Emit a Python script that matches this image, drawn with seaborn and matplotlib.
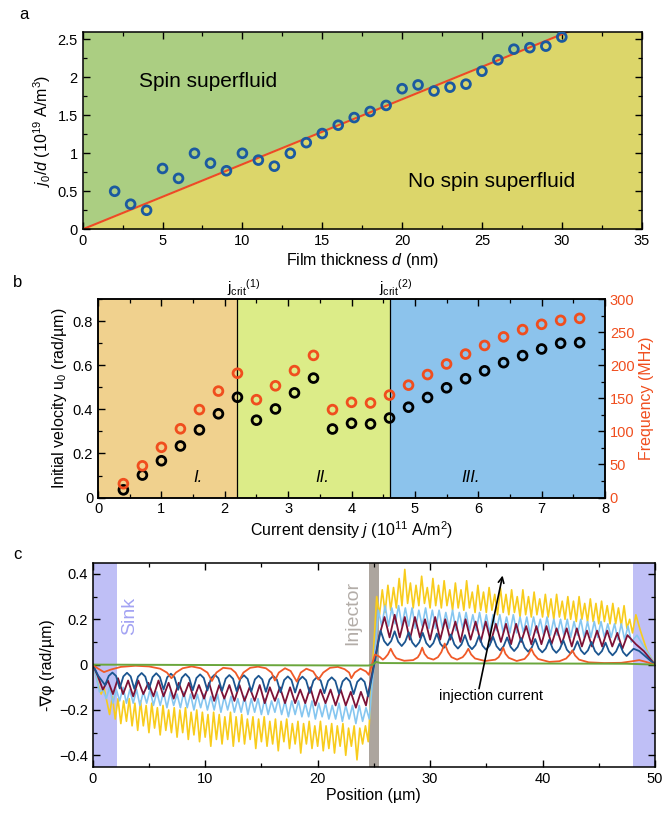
import numpy as np
import pandas as pd
import matplotlib
matplotlib.use("Agg")
import matplotlib.pyplot as plt
import seaborn as sns
from matplotlib.ticker import MultipleLocator, FuncFormatter
from matplotlib.transforms import blended_transform_factory

# ---------------- Panel a data ----------------
thickness_nm = [2, 3, 4, 5, 6, 7, 8, 9, 10, 11, 12, 13, 14, 15, 16, 17, 18, 19, 20,
                21, 22, 23, 24, 25, 26, 27, 28, 29, 30]
jd_values = [0.50, 0.33, 0.25, 0.80, 0.67, 1.00, 0.87, 0.77, 1.00, 0.91, 0.83, 1.00,
             1.14, 1.26, 1.37, 1.47, 1.55, 1.63, 1.85, 1.90, 1.82, 1.87, 1.91, 2.08,
             2.23, 2.37, 2.39, 2.41, 2.53]
boundary_d = [0, 30.4, 35]
boundary_jd = [0, 2.6, 2.99]

# ---------------- Panel b data ----------------
current_j = [0.4, 0.7, 1.0, 1.3, 1.6, 1.9, 2.2, 2.5, 2.8, 3.1, 3.4, 3.7, 4.0, 4.3,
             4.6, 4.9, 5.2, 5.5, 5.8, 6.1, 6.4, 6.7, 7.0, 7.3, 7.6]
velocity_u0 = [0.035, 0.102, 0.167, 0.234, 0.307, 0.380, 0.455, 0.351, 0.402, 0.475,
               0.542, 0.311, 0.337, 0.334, 0.361, 0.410, 0.454, 0.498, 0.539, 0.575,
               0.612, 0.644, 0.674, 0.700, 0.703]
frequency_mhz = [21, 48, 76, 104, 133, 161, 188, 148, 169, 192, 215, 133, 144, 143,
                 155, 170, 186, 202, 217, 230, 243, 254, 262, 268, 271]
j_crit = [2.2, 4.6]
region_labels = ["I.", "II.", "III."]
region_label_x = [1.57, 3.54, 5.88]

# ---------------- Panel c data (rad/um) ----------------
sink_bands = [(0.0, 2.2), (48.0, 50.0)]
injector_band = (24.55, 25.5)

# yellow (units of 0.01 rad/um)
yellow_left_start, yellow_left_step = 0.0, 0.25
yellow_left_cent = [0, -4, -9, -13, -10, -16, -22, -14, -24, -15, -26, -16, -25, -15, -27, -17,
                    -29, -16, -27, -18, -30, -17, -28, -19, -31, -18, -29, -20, -30, -19, -32, -20,
                    -30, -19, -33, -21, -31, -20, -34, -21, -32, -22, -36, -21, -33, -22, -35, -23,
                    -33, -21, -36, -23, -34, -22, -35, -24, -33, -23, -37, -24, -34, -23, -36, -25,
                    -35, -24, -38, -25, -34, -24, -37, -26, -35, -25, -39, -26, -35, -25, -37, -27,
                    -36, -25, -38, -27, -37, -26, -39, -27, -36, -26, -40, -28, -36, -27, -42, -28,
                    -35, -27, -34]
yellow_right_start, yellow_right_step = 25.25, 0.25
yellow_right_cent = [30, 22, 33, 23, 35, 24, 34, 25, 38, 26, 42, 27, 36, 25, 35, 26, 39, 27, 34, 25,
                     38, 26, 35, 25, 37, 26, 33, 24, 36, 25, 33, 24, 37, 25, 32, 23, 35, 24, 32, 23,
                     34, 24, 31, 22, 34, 23, 31, 22, 33, 23, 30, 21, 33, 22, 30, 21, 32, 22, 29, 21,
                     31, 21, 29, 20, 31, 21, 28, 20, 30, 20, 28, 19, 30, 20, 27, 19, 29, 19, 27, 18,
                     28, 19, 26, 18, 27, 18, 25, 17, 26, 16, 20, 14]
yellow_tail_x = [48.3, 48.7, 49.3, 50.0]
yellow_tail_cent = [22, 15, 6, 0]

# light blue
lblue_head_x = [0.0, 0.3, 0.6]
lblue_head_cent = [0, -5, -12]
lblue_left_start, lblue_left_step = 0.9, 0.3
lblue_left_cent = [-11, -15, -10, -17, -11, -16, -10, -17, -11, -17, -11, -18, -12, -17, -11, -18,
                   -12, -18, -12, -19, -12, -18, -13, -19, -12, -19, -13, -20, -13, -19, -13, -20,
                   -14, -20, -13, -21, -14, -20, -14, -21, -15, -21, -14, -22, -15, -21, -15, -22,
                   -15, -22, -16, -21, -15, -22, -16, -23, -16, -22, -16, -23, -17, -23, -16, -24,
                   -17, -23, -17, -24, -18, -24, -17, -25, -18, -24, -18, -26, -18, -25, -19, -24]
lblue_right_start, lblue_right_step = 25.4, 0.3
lblue_right_cent = [24, 17, 26, 17, 25, 18, 26, 17, 25, 17, 25, 16, 24, 17, 25, 16, 24, 16, 24, 16,
                    23, 16, 24, 15, 23, 16, 23, 15, 22, 15, 23, 15, 22, 14, 22, 15, 22, 14, 21, 14,
                    22, 14, 21, 14, 21, 13, 21, 14, 20, 13, 21, 13, 20, 13, 20, 13, 20, 12, 19, 13,
                    20, 12, 19, 12, 19, 12, 19, 12, 18, 12, 18, 11, 18, 11, 17, 10]
lblue_tail_x = [48.4, 49.0, 50.0]
lblue_tail_cent = [13, 8, 0]

# maroon
maroon_head_x = [0.0, 0.45]
maroon_head_cent = [0, -5]
maroon_left_start, maroon_left_step = 0.9, 0.45
maroon_left_cent = [-11, -7, -13, -6, -13, -7, -14, -7, -13, -8, -14, -7, -14, -8, -15, -8,
                    -14, -8, -15, -9, -15, -8, -16, -9, -15, -9, -16, -9, -16, -10, -16, -9,
                    -17, -10, -16, -10, -17, -10, -17, -11, -17, -10, -18, -11, -17, -11, -18, -11,
                    -18, -12, -19, -12, -18]
maroon_right_start, maroon_right_step = 25.5, 0.45
maroon_right_cent = [13, 21, 12, 22, 12, 21, 11, 21, 12, 20, 11, 21, 11, 20, 11, 19, 10, 20, 11, 19,
                     10, 19, 10, 18, 10, 18, 9, 18, 10, 17, 9, 17, 9, 17, 9, 16, 9, 16, 8, 16,
                     8, 15, 8, 15, 8, 15, 8, 14, 7, 13]
maroon_tail_x = [48.3, 49.0, 50.0]
maroon_tail_cent = [9, 6, 0]

# dark blue (rad/um)
blue_head_x = [0.0, 0.5]
blue_head = [0.0, -0.05]
blue_left_start, blue_left_step = 1.1, 0.325
blue_left = [-0.090, -0.050, -0.035, -0.050, -0.105, -0.052, -0.036, -0.052,
             -0.107, -0.053, -0.037, -0.053, -0.108, -0.055, -0.038, -0.055,
             -0.110, -0.056, -0.040, -0.056, -0.111, -0.058, -0.041, -0.058,
             -0.113, -0.059, -0.043, -0.059, -0.114, -0.060, -0.044, -0.060,
             -0.116, -0.062, -0.046, -0.062, -0.117, -0.063, -0.047, -0.063,
             -0.119, -0.065, -0.049, -0.065, -0.120, -0.066, -0.050, -0.066,
             -0.122, -0.068, -0.052, -0.068, -0.123, -0.069, -0.053, -0.069,
             -0.125, -0.071, -0.055, -0.071, -0.126, -0.072, -0.056, -0.072,
             -0.128, -0.074, -0.058, -0.074, -0.130, -0.076, -0.060, -0.076, -0.140]
blue_right_start, blue_right_step = 25.6, 0.3125
blue_right = [0.150, 0.104, 0.085, 0.104, 0.147, 0.101, 0.082, 0.101,
              0.143, 0.098, 0.079, 0.098, 0.140, 0.095, 0.077, 0.095,
              0.137, 0.092, 0.074, 0.092, 0.133, 0.089, 0.071, 0.089,
              0.130, 0.086, 0.068, 0.086, 0.127, 0.084, 0.066, 0.084,
              0.123, 0.081, 0.063, 0.081, 0.120, 0.078, 0.060, 0.078,
              0.117, 0.075, 0.057, 0.075, 0.113, 0.071, 0.054, 0.071,
              0.110, 0.069, 0.052, 0.069, 0.107, 0.066, 0.049, 0.066,
              0.103, 0.063, 0.046, 0.063, 0.100, 0.060, 0.043, 0.060,
              0.097, 0.058, 0.041, 0.058, 0.093, 0.055, 0.038, 0.055, 0.070]
blue_tail_x = [48.6, 49.3, 50.0]
blue_tail = [0.06, 0.03, 0.0]

# orange
orange_x = [0, 0.4, 1.0, 1.6, 2.5, 3.8, 5.0, 6.0, 6.6, 7.0, 7.4, 8.0, 8.8, 9.6, 10.2, 10.6, 11.0,
            11.6, 12.3, 12.7, 13.05, 13.4, 14.0, 14.7, 15.4, 15.9, 16.2, 16.55, 17.1, 17.6, 18.15,
            18.5, 19.0, 19.6, 20.07, 20.5, 21.1, 21.8, 22.4, 22.8, 23.0, 23.3, 23.8, 24.3, 24.55,
            25.1, 25.5, 25.8, 26.0, 26.25, 26.5, 26.75, 27.0, 27.7, 28.5, 28.9, 29.1, 29.3, 29.5,
            29.8, 30.3, 30.7, 31.0, 31.3, 31.6, 31.9, 32.4, 32.9, 33.15, 33.4, 33.65, 34.0, 34.9,
            35.8, 36.1, 36.3, 36.5, 36.7, 37.0, 37.7, 38.4, 38.75, 39.0, 39.25, 39.6, 40.6, 41.5,
            42.1, 42.4, 42.65, 42.9, 43.25, 44.1, 45.5, 47.0, 48.0, 48.6, 49.2, 50.0]
orange_y = [0, -0.015, -0.033, -0.022, -0.010, -0.005, -0.008, -0.018, -0.035, -0.060, -0.035,
            -0.016, -0.008, -0.016, -0.035, -0.072, -0.035, -0.014, -0.018, -0.035, -0.066,
            -0.035, -0.014, -0.009, -0.016, -0.035, -0.070, -0.035, -0.016, -0.028, -0.075,
            -0.035, -0.018, -0.030, -0.066, -0.035, -0.014, -0.010, -0.020, -0.035, -0.060,
            -0.035, -0.018, -0.030, -0.045,
            0.045, 0.035, 0.022, 0.030, 0.045, 0.070, 0.045, 0.028, 0.017, 0.020, 0.032, 0.048,
            0.075, 0.048, 0.030, 0.022, 0.033, 0.055, 0.093, 0.055, 0.033, 0.022, 0.033, 0.048,
            0.070, 0.045, 0.027, 0.016, 0.022, 0.033, 0.050, 0.075, 0.048, 0.030, 0.016, 0.025,
            0.045, 0.070, 0.045, 0.025, 0.012, 0.015, 0.027, 0.043, 0.063, 0.040, 0.022, 0.010,
            0.007, 0.008, 0.015, 0.020, 0.012, 0.0]

# green
green_x = [0, 24.5, 24.9, 25.2, 25.6, 30.0, 47.5, 50.0]
green_y = [0, -0.004, 0.0, 0.012, 0.007, 0.006, 0.004, 0.0]


def grid(start, step, n):
    return list(start + step * np.arange(n))


def build(head_x, head_y, ls, lstep, lvals, rs, rstep, rvals, tx, ty):
    xs = list(head_x) + grid(ls, lstep, len(lvals)) + grid(rs, rstep, len(rvals)) + list(tx)
    ys = list(head_y) + list(lvals) + list(rvals) + list(ty)
    return np.array(xs), np.array(ys)


c01 = lambda v: [u / 100.0 for u in v]

curves = []
curves.append(("yellow", "#f8cc1c", 1.2,
               build([], [], yellow_left_start, yellow_left_step, c01(yellow_left_cent),
                     yellow_right_start, yellow_right_step, c01(yellow_right_cent),
                     yellow_tail_x, c01(yellow_tail_cent))))
curves.append(("lightblue", "#86c6f0", 1.2,
               build(lblue_head_x, c01(lblue_head_cent), lblue_left_start, lblue_left_step,
                     c01(lblue_left_cent), lblue_right_start, lblue_right_step,
                     c01(lblue_right_cent), lblue_tail_x, c01(lblue_tail_cent))))
curves.append(("maroon", "#7d1236", 1.3,
               build(maroon_head_x, c01(maroon_head_cent), maroon_left_start, maroon_left_step,
                     c01(maroon_left_cent), maroon_right_start, maroon_right_step,
                     c01(maroon_right_cent), maroon_tail_x, c01(maroon_tail_cent))))
curves.append(("blue", "#1b5590", 1.3,
               build(blue_head_x, blue_head, blue_left_start, blue_left_step, blue_left,
                     blue_right_start, blue_right_step, blue_right, blue_tail_x, blue_tail)))
curves.append(("orange", "#f05a28", 1.3, (np.array(orange_x), np.array(orange_y))))
curves.append(("green", "#6aa63c", 1.4, (np.array(green_x), np.array(green_y))))

# ---------------- Style ----------------
sns.set_style("ticks")
plt.rcParams["font.family"] = ["Liberation Sans", "DejaVu Sans"]
plt.rcParams["mathtext.fontset"] = "custom"
plt.rcParams["mathtext.rm"] = "Liberation Sans"
plt.rcParams["mathtext.it"] = "Liberation Sans:italic"
plt.rcParams["mathtext.bf"] = "Liberation Sans:bold"
plt.rcParams["axes.linewidth"] = 1.1
for key in ["text.color", "axes.labelcolor", "xtick.color", "ytick.color", "axes.edgecolor"]:
    plt.rcParams[key] = "black"
TICK_FS = 10.5
LAB_FS = 11.5


def fmt(v, pos):
    if abs(v) < 1e-9:
        return "0"
    return f"{v:g}".replace("-", "\u2212")


def style_ticks(ax, right=True):
    ax.tick_params(which="both", direction="in", top=True, right=right, labelsize=TICK_FS,
                   color="black")
    ax.tick_params(which="major", length=5, width=1.0)
    ax.tick_params(which="minor", length=3, width=0.9)
    ax.xaxis.set_major_formatter(FuncFormatter(fmt))
    ax.yaxis.set_major_formatter(FuncFormatter(fmt))


fig = plt.figure(figsize=(6.67, 8.13), dpi=100)

# ---------------- Panel a ----------------
axa = fig.add_axes([0.124, 0.718, 0.838, 0.243])
bx = np.array(boundary_d, dtype=float)
by = np.array(boundary_jd, dtype=float)
by_clip = np.minimum(by, 2.6)
axa.fill_between(bx, by_clip, 2.6, color="#abce82", zorder=0, lw=0)
axa.fill_between(bx, 0, by_clip, color="#dcd66a", zorder=0, lw=0)
axa.plot(bx, by, color="#ee4a25", lw=1.5, zorder=2)
sns.scatterplot(x=thickness_nm, y=jd_values, ax=axa, marker="o", s=40,
                facecolor="none", edgecolor="#1b5aa0", linewidth=2.0, zorder=3)
axa.set_xlim(0, 35)
axa.set_ylim(0, 2.6)
axa.xaxis.set_major_locator(MultipleLocator(5))
axa.xaxis.set_minor_locator(MultipleLocator(2.5))
axa.yaxis.set_major_locator(MultipleLocator(0.5))
axa.yaxis.set_minor_locator(MultipleLocator(0.25))
style_ticks(axa)
axa.set_xlabel("Film thickness $d$ (nm)", fontsize=LAB_FS, labelpad=2)
axa.set_ylabel("$j_0/d$ (10$^{19}$ A/m$^3$)", fontsize=LAB_FS, labelpad=3)
axa.text(3.5, 1.95, "Spin superfluid", fontsize=15, va="center", ha="left")
axa.text(20.35, 0.63, "No spin superfluid", fontsize=15, va="center", ha="left")

# ---------------- Panel b ----------------
axb = fig.add_axes([0.147, 0.388, 0.760, 0.244])
edges = [0] + j_crit + [8]
region_colors = ["#f0d18e", "#dcec88", "#8cc3ec"]
for i in range(3):
    axb.axvspan(edges[i], edges[i + 1], color=region_colors[i], lw=0, zorder=0)
for jc in j_crit:
    axb.axvline(jc, color="black", lw=0.9, zorder=1)
axb2 = axb.twinx()
sns.scatterplot(x=current_j, y=frequency_mhz, ax=axb2, marker="o", s=40,
                facecolor="none", edgecolor="#f04e1e", linewidth=2.0, zorder=3)
sns.scatterplot(x=current_j, y=velocity_u0, ax=axb, marker="o", s=40,
                facecolor="none", edgecolor="black", linewidth=2.0, zorder=3)
axb.set_zorder(axb2.get_zorder() - 1)
axb2.patch.set_visible(False)
axb.set_xlim(0, 8)
axb.set_ylim(0, 0.9)
axb2.set_ylim(0, 300)
axb.xaxis.set_major_locator(MultipleLocator(1))
axb.xaxis.set_minor_locator(MultipleLocator(0.5))
axb.yaxis.set_major_locator(MultipleLocator(0.2))
axb.yaxis.set_minor_locator(MultipleLocator(0.1))
axb2.yaxis.set_major_locator(MultipleLocator(50))
axb2.yaxis.set_minor_locator(MultipleLocator(25))
style_ticks(axb, right=False)
axb2.tick_params(which="both", direction="in", labelsize=TICK_FS, labelcolor="#f04e1e",
                 color="black")
axb2.tick_params(which="major", length=5, width=1.0)
axb2.tick_params(which="minor", length=3, width=0.9)
axb2.yaxis.set_major_formatter(FuncFormatter(fmt))
axb.set_xlabel("Current density $j$ (10$^{11}$ A/m$^2$)", fontsize=LAB_FS, labelpad=2)
axb.set_ylabel("Initial velocity u$_0$ (rad/\u00b5m)", fontsize=LAB_FS, labelpad=3)
axb2.set_ylabel("Frequency (MHz)", fontsize=LAB_FS, color="#f04e1e", labelpad=3)
trb = blended_transform_factory(axb.transData, axb.transAxes)
for k, jc in enumerate(j_crit):
    axb.text(jc + 0.1, 1.005, "$\\mathrm{j}_{\\mathrm{crit}}{}^{(%d)}$" % (k + 1), transform=trb,
             ha="center", va="bottom", fontsize=11)
for lab, lx in zip(region_labels, region_label_x):
    axb.text(lx, 0.093, lab, fontsize=12, style="italic", ha="center", va="center")

# ---------------- Panel c ----------------
axc = fig.add_axes([0.139, 0.057, 0.843, 0.251])
for a0, a1 in sink_bands:
    axc.axvspan(a0, a1, color="#bfbff6", lw=0, zorder=0)
axc.axvspan(injector_band[0], injector_band[1], color="#aca59e", lw=0, zorder=0)
for name, col, lw, (xs, ys) in curves:
    sns.lineplot(x=xs, y=ys, ax=axc, color=col, lw=lw, sort=False, estimator=None, zorder=2)
axc.set_xlim(0, 50)
axc.set_ylim(-0.45, 0.45)
axc.xaxis.set_major_locator(MultipleLocator(10))
axc.xaxis.set_minor_locator(MultipleLocator(5))
axc.yaxis.set_major_locator(MultipleLocator(0.2))
axc.yaxis.set_minor_locator(MultipleLocator(0.1))
style_ticks(axc)
axc.set_xlabel("Position (\u00b5m)", fontsize=LAB_FS, labelpad=2)
axc.set_ylabel("-\u2207\u03c6 (rad/\u00b5m)", fontsize=LAB_FS, labelpad=3)
axc.text(3.25, 0.214, "Sink", rotation=90, color="#a3a3f3", fontsize=14,
         ha="center", va="center")
axc.text(23.15, 0.228, "Injector", rotation=90, color="#b3ada8", fontsize=14,
         ha="center", va="center")
axc.annotate("", xy=(36.5, 0.405), xytext=(34.3, -0.118),
             arrowprops=dict(arrowstyle="->", color="black", lw=1.2), zorder=5)
axc.text(35.4, -0.14, "injection current", fontsize=10.5, ha="center", va="center", zorder=5)

# panel letters
fig.text(0.036, 0.982, "a", fontsize=12, ha="center", va="center")
fig.text(0.026, 0.653, "b", fontsize=12, ha="center", va="center")
fig.text(0.026, 0.318, "c", fontsize=12, ha="center", va="center")

fig.savefig("out.png", dpi=100)
